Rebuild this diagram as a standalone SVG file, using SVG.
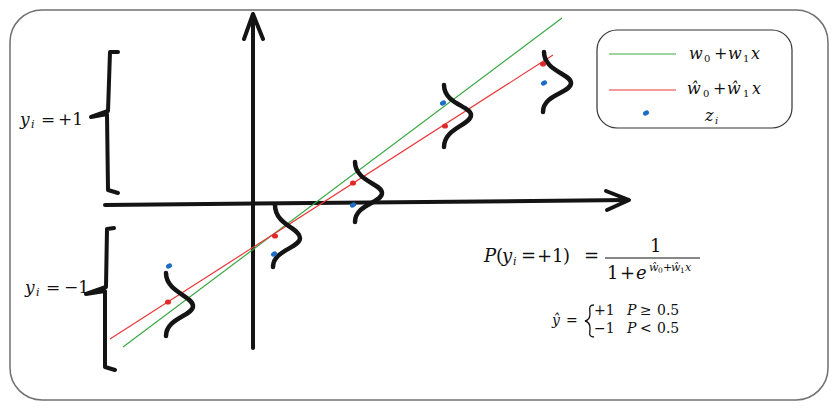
<svg xmlns="http://www.w3.org/2000/svg" width="838" height="410" viewBox="0 0 838 410">
<style>
.thick{fill:none;stroke:#141414;stroke-width:4;stroke-linecap:round;stroke-linejoin:round}
.wig{fill:none;stroke:#141414;stroke-width:4.5;stroke-linecap:round}
text{font-family:'DejaVu Serif','Liberation Serif',serif;fill:#111}
.it{font-style:italic}
.blue{fill:#1b6ec6}
.red{fill:#e02a2a}
</style>
<rect id="frame" x="10" y="10" width="818" height="390" rx="32" fill="#fff" stroke="#707070" stroke-width="1.5"/>
<g id="axes">
<path class="thick" d="M105,205 L628,200"/>
<path class="thick" d="M606,191 L629,200 L607,210"/>
<path class="thick" d="M253,348 L253,15"/>
<path class="thick" d="M244,39 L253,14 L263,39"/>
</g>
<g id="braces">
<path class="thick" d="M118,52 L110,52 L108,111 L91,117 L107,114 L108,190 L118,193"/>
<path class="thick" d="M114,228 L107,229 L106,287 L86,294 L105,291 L105,367 L115,370"/>
</g>
<g id="connectors">
<line x1="123" y1="347" x2="562" y2="18" stroke="#3aa845" stroke-width="1.2"/>
<line x1="110" y1="339" x2="553" y2="55" stroke="#e8383a" stroke-width="1.2"/>
</g>
<g id="wiggles">
<path class="wig" d="M166,273 C166,292 193,296 193,306 C193,316 166,318 166,336"/>
<path class="wig" d="M275,205 C275,225 300,228 300,238 C300,248 273,250 273,267"/>
<path class="wig" d="M355,162 C355,181 382,184 382,193 C382,203 355,204 355,222"/>
<path class="wig" d="M444,85 C444,104 471,106 471,115 C471,125 444,128 444,147"/>
<path class="wig" d="M544,52 C544,71 571,74 571,83 C571,93 543,94 543,112"/>
</g>
<g id="points">
<ellipse class="red" cx="168" cy="302" rx="3" ry="2.6"/>
<ellipse class="red" cx="275" cy="236" rx="3" ry="2.6"/>
<ellipse class="red" cx="353" cy="183" rx="3" ry="2.6"/>
<ellipse class="red" cx="445" cy="126" rx="3" ry="2.6"/>
<ellipse class="red" cx="543" cy="64" rx="3" ry="2.6"/>
<ellipse class="blue" cx="169" cy="266" rx="3.2" ry="2.4" transform="rotate(-30 169 266)"/>
<ellipse class="blue" cx="274" cy="254" rx="3.2" ry="2.4" transform="rotate(-30 274 254)"/>
<ellipse class="blue" cx="353" cy="205" rx="3.2" ry="2.4" transform="rotate(-30 353 205)"/>
<ellipse class="blue" cx="443" cy="103" rx="3.2" ry="2.4" transform="rotate(-30 443 103)"/>
<ellipse class="blue" cx="544" cy="83" rx="3.2" ry="2.4" transform="rotate(-30 544 83)"/>
</g>
<g id="labels">
<text font-size="17" y="125"><tspan class="it" x="20">y</tspan><tspan class="it" font-size="11" x="31" y="128">i</tspan><tspan x="41" y="125">=</tspan><tspan x="58" y="125">+1</tspan></text>
<text font-size="17" y="293"><tspan class="it" x="25">y</tspan><tspan class="it" font-size="11" x="36" y="296">i</tspan><tspan x="46" y="293">=</tspan><tspan x="64" y="293">−1</tspan></text>
</g>
<g id="legend">
<rect x="597" y="30" width="195" height="98" rx="20" fill="#fff" stroke="#333" stroke-width="1.2"/>
<line x1="609" y1="54" x2="676" y2="54" stroke="#3aa845" stroke-width="1.2"/>
<line x1="609" y1="90" x2="676" y2="90" stroke="#e8383a" stroke-width="1.2"/>
<ellipse class="blue" cx="646" cy="113" rx="3.2" ry="2.4" transform="rotate(-30 646 113)"/>
<text font-size="16" y="59"><tspan class="it" x="689">w</tspan><tspan font-size="10" x="704" y="62">0</tspan><tspan x="714" y="59">+</tspan><tspan class="it" x="728">w</tspan><tspan font-size="10" x="743" y="62">1</tspan><tspan class="it" x="751" y="59">x</tspan></text>
<text font-size="16" y="94"><tspan class="it" x="687">ŵ</tspan><tspan font-size="10" x="703" y="97">0</tspan><tspan x="713" y="94">+</tspan><tspan class="it" x="727">ŵ</tspan><tspan font-size="10" x="743" y="97">1</tspan><tspan class="it" x="752" y="94">x</tspan></text>
<text font-size="16" y="121"><tspan class="it" x="705">z</tspan><tspan class="it" font-size="10" x="715" y="124">i</tspan></text>
</g>
<g id="formula">
<text font-size="18" y="262"><tspan class="it" x="484">P</tspan><tspan x="496">(</tspan><tspan class="it" x="502">y</tspan><tspan class="it" font-size="11" x="513" y="265">i</tspan><tspan x="521" y="262">=</tspan><tspan x="537">+1</tspan><tspan x="563">)</tspan><tspan x="584">=</tspan></text>
<text font-size="18" x="650" y="252">1</text>
<line x1="605" y1="258" x2="700" y2="258" stroke="#111" stroke-width="1"/>
<text font-size="18" y="279"><tspan x="607">1</tspan><tspan x="620">+</tspan><tspan class="it" x="636">e</tspan></text>
<text font-size="11" y="271"><tspan class="it" x="649">ŵ</tspan><tspan font-size="7.5" x="658" y="273">0</tspan><tspan x="663" y="271">+</tspan><tspan class="it" x="671">ŵ</tspan><tspan font-size="7.5" x="680" y="273">1</tspan><tspan class="it" x="685" y="271">x</tspan></text>
<text font-size="14" y="325"><tspan class="it" x="552">ŷ</tspan><tspan x="566">=</tspan></text>
<path d="M594,305 C588,305 590,309 590,314 C590,318 589,320 585,321 C589,322 590,324 590,328 C590,333 588,337 594,337" fill="none" stroke="#111" stroke-width="1.3"/>
<text font-size="14" y="315"><tspan x="594">+1</tspan><tspan class="it" x="627">P</tspan><tspan x="640">≥</tspan><tspan x="657">0.5</tspan></text>
<text font-size="14" y="333"><tspan x="594">−1</tspan><tspan class="it" x="627">P</tspan><tspan x="640">&lt;</tspan><tspan x="657">0.5</tspan></text>
</g>
</svg>
